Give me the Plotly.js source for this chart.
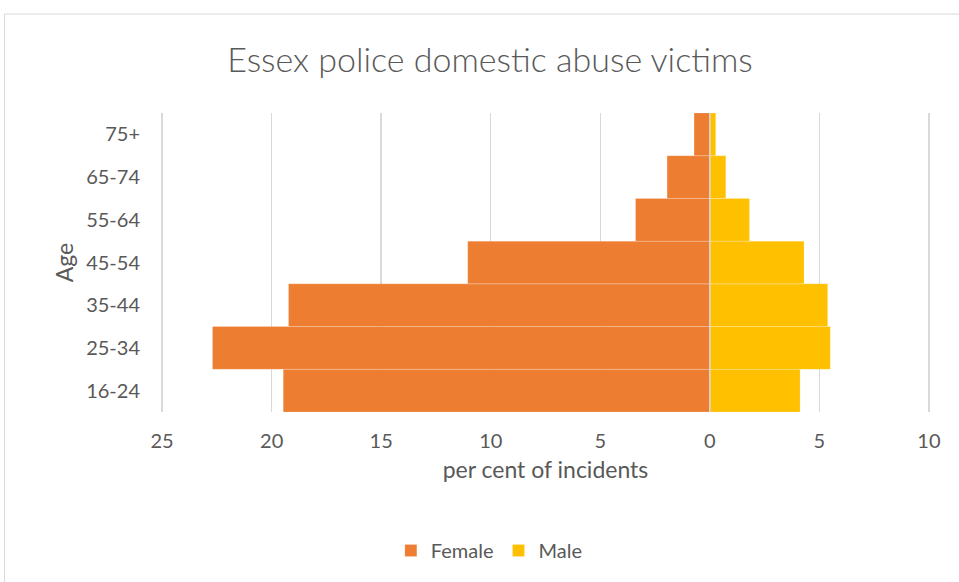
<!DOCTYPE html>
<html>
<head>
<meta charset="utf-8">
<script src="https://cdn.plot.ly/plotly-3.0.1.min.js"></script>
<style>html,body{margin:0;padding:0;background:#fff;}#chart{width:959px;height:582px;}</style>
</head>
<body>
<div id="chart"></div>
<script>
const ageGroups = ["16-24", "25-34", "35-44", "45-54", "55-64", "65-74", "75+"];
const femalePct = [19.47, 22.7, 19.23, 11.05, 3.39, 1.95, 0.72];
const malePct = [4.12, 5.50, 5.38, 4.30, 1.81, 0.73, 0.27];
const xTickVals = [-25, -20, -15, -10, -5, 0, 5, 10];
const xTickText = ["25", "20", "15", "10", "5", "0", "5", "10"];

const fontFam = "Lato, 'Open Sans', sans-serif";
const grey = "#595959";

const traces = [
  {
    type: "bar", orientation: "h", name: "Female",
    y: ageGroups, x: femalePct.map(v => -v),
    marker: {color: "#ED7D31", line: {color: "rgba(255,255,255,0.4)", width: 0.5}},
    hoverinfo: "skip"
  },
  {
    type: "bar", orientation: "h", name: "Male",
    y: ageGroups, x: malePct,
    marker: {color: "#FFC000", line: {color: "rgba(255,255,255,0.4)", width: 0.5}},
    hoverinfo: "skip"
  }
];

const layout = {
  width: 959, height: 582,
  margin: {l: 161, r: 29, t: 113, b: 170},
  paper_bgcolor: "#fff", plot_bgcolor: "#fff",
  font: {family: fontFam, color: grey, size: 20},
  title: {text: "Essex police domestic abuse victims", x: 0.511, xanchor: "center", y: 0.897, yanchor: "middle", font: {size: 34, color: grey, family: fontFam, weight: 300}},
  barmode: "relative", bargap: 0,
  showlegend: true,
  legend: {orientation: "h", x: 0.427, xanchor: "center", y: -0.463, yanchor: "middle", font: {size: 20, color: grey}, traceorder: "normal", itemwidth: 30},
  xaxis: {
    range: [-25.05, 10.05], tickvals: xTickVals, ticktext: xTickText,
    showgrid: true, gridcolor: "#d9d9d9", gridwidth: 1.5, zeroline: false,
    showline: false, ticks: "", ticklabelstandoff: 15,
    tickfont: {size: 20, color: grey},
    title: {text: "per cent of incidents", font: {size: 23, color: grey}, standoff: 10},
    fixedrange: true
  },
  yaxis: {
    type: "category", categoryorder: "array", categoryarray: ageGroups,
    showgrid: false, zeroline: false, showline: false, ticks: "",
    ticklabelstandoff: 20,
    tickfont: {size: 20, color: grey},
    title: {text: "Age", font: {size: 23, color: grey}, standoff: 6},
    fixedrange: true
  },
  shapes: [
    {type: "line", xref: "x", yref: "paper", x0: 0, x1: 0, y0: 0, y1: 1, line: {color: "#d9d9d9", width: 1.5}, layer: "above"},
    {type: "rect", xref: "paper", yref: "paper", x0: -0.2035, x1: 1.1, y0: -0.7, y1: 1.331, line: {color: "#d9d9d9", width: 1}, fillcolor: "rgba(0,0,0,0)", layer: "below"}
  ]
};

Plotly.newPlot("chart", traces, layout, {displayModeBar: false, staticPlot: true});
</script>
</body>
</html>
